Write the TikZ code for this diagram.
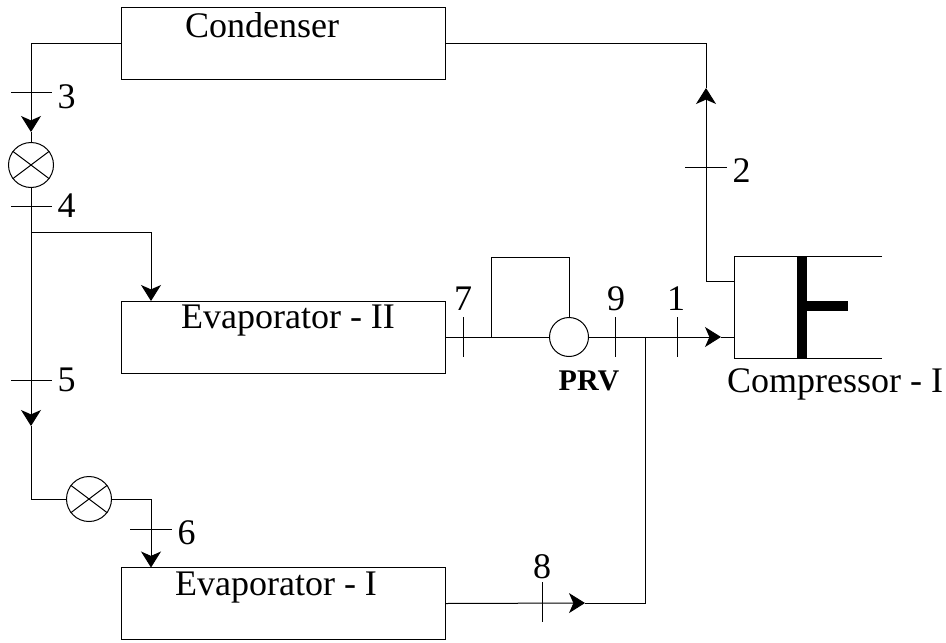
\documentclass[tikz,border=0pt]{standalone}
\usepackage{fontspec}
\setmainfont{Liberation Serif}
\usetikzlibrary{arrows.meta, positioning, calc}
\tikzstyle{unit} = [rectangle, minimum width=162pt, minimum height=36pt, inner sep=0pt, draw=black]
\tikzstyle{valve} = [circle, minimum size=22.5pt, inner sep=0pt, draw=black, fill=white]
\tikzstyle{prv} = [circle, minimum size=19.5pt, inner sep=0pt, draw=black, fill=white]
\tikzstyle{txt} = [font=\fontsize{18}{20}\selectfont, inner sep=0pt, anchor=base]
\tikzstyle{arrow} = [-{Stealth[length=8pt, width=10pt, inset=2.2pt]}]

\begin{document}
\begin{tikzpicture}[x=0.5pt, y=-0.5pt, line width=0.5pt]
        \useasboundingbox (0,0) rectangle (946,642);

        % Nodos
        \node (cond) [unit] at (283,44) {};
        \node (evapB) [unit] at (283,337) {};
        \node (evapA) [unit] at (283,603.5) {};
        \node (valveA) [valve] at (31,165) {};
        \node (valveB) [valve] at (89,499) {};
        \node (prvalve) [prv] at (569,337) {};
        \node (condtxt) [txt] at (262,38) {Condenser};
        \node (evapBtxt) [txt] at (288,328) {Evaporator - II};
        \node (evapAtxt) [txt] at (276,595) {Evaporator - I};
        \node (comptxt) [txt] at (835,392) {Compressor - I};
        \node (prvtxt) [txt, font=\fontsize{15}{18}\selectfont\bfseries] at (589,390) {PRV};

        % Numeros
        \node (n1) [txt] at (676,310) {1};
        \node (n2) [txt] at (741.5,182) {2};
        \node (n3) [txt] at (66.5,108) {3};
        \node (n4) [txt] at (66.5,217) {4};
        \node (n5) [txt] at (66.5,391) {5};
        \node (n6) [txt] at (186.5,544) {6};
        \node (n7) [txt] at (463,310) {7};
        \node (n8) [txt] at (542,578) {8};
        \node (n9) [txt] at (616,310) {9};

        % Puntos
        \coordinate (a3) at (31,132);
        \coordinate (a5) at (31,426);
        \coordinate (j4) at (31,232);
        \coordinate (j5) at (31,499);
        \coordinate (a2) at (706,88);
        \coordinate (a8) at (585,603);
        \coordinate (a1) at (721,337);
        \coordinate (a4) at (151,301);
        \coordinate (a6) at (151,567.5);
        \coordinate (inlet) at (734,337);
        \coordinate (outlet) at (734,281);
        \coordinate (j8) at (645,337);
        \coordinate (by) at (491,337);
        \coordinate (bytop) at (569,257);

        % Conexiones
        \draw [arrow] (cond.west) -| (a3);
        \draw (a3) -- (valveA);
        \draw [arrow] (valveA) -- (a5);
        \draw (a5) -- (j5) -- (valveB);
        \draw [arrow] (j4) -| (a4);
        \draw [arrow] (valveB) -| (a6);
        \draw (evapB.east) -- (prvalve);
        \draw (by) |- (bytop) -- (prvalve);
        \draw [arrow] (prvalve) -- (a1);
        \draw (a1) -- (inlet);
        \draw [arrow] (evapA.east) -- (a8);
        \draw (a8) -| (j8);
        \draw [arrow] (outlet) -| (a2);
        \draw (a2) |- (cond.east);

        % Marcas
        \draw (11,93) -- (52,93);
        \draw (11,206) -- (52,206);
        \draw (11,380) -- (52,380);
        \draw (130,529) -- (172,529);
        \draw (685,167) -- (727,167);
        \draw (463,317) -- (463,357);
        \draw (615,317) -- (615,357);
        \draw (677,317) -- (677,357);
        \draw (542,582) -- (542,622);

        % Valvulas
        \foreach \v in {valveA, valveB} {
            \draw (\v.143) -- (\v.-37);
            \draw (\v.37) -- (\v.-143);
        }

        % Compresor
        \draw (882,256) -- (734,256) -- (734,358) -- (882,358);
        \draw [line width=5pt] (802,256) -- (802,358);
        \draw [line width=5pt] (802,305.5) -- (848,305.5);

    \end{tikzpicture}
\end{document}
